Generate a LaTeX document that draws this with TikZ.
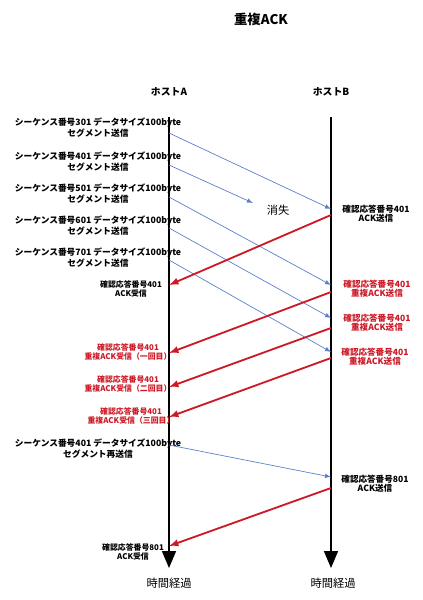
\documentclass[tikz,border=0pt]{standalone}
\usepackage{fontspec}
\setmainfont{Noto Sans CJK JP}
\usetikzlibrary{arrows}
\definecolor{segblue}{rgb}{0.36, 0.50, 0.80}
\definecolor{ackred}{rgb}{0.80, 0.10, 0.15}
\tikzset{
  seg/.style={segblue,line width=0.5pt,-latex},
  ack/.style={ackred,line width=1.3pt,-latex},
  seglbl/.style={font=\fontsize{6.2}{6.6}\selectfont\bfseries,align=center,inner sep=0pt},
  acklbl/.style={font=\fontsize{5.6}{6.4}\selectfont\bfseries,align=center,inner sep=0pt},
  acklblB/.style={font=\fontsize{6.1}{6.6}\selectfont\bfseries,align=center,inner sep=0pt},
  host/.style={font=\fontsize{7}{8}\selectfont\bfseries,inner sep=0pt},
  plain/.style={font=\fontsize{8}{9}\selectfont,inner sep=0pt}
}

\begin{document}
\begin{tikzpicture}[x=0.025cm,y=-0.025cm]
\useasboundingbox (0,0) rectangle (422,600);
\node[font=\fontsize{9.5}{10}\selectfont\bfseries] (title) at (261,19) {重複ACK};
\node[host] (hostA) at (169,92) {ホストA};
\node[host] (hostB) at (331,92) {ホストB};

% time lines
\coordinate (topA) at (169,117);
\coordinate (endA) at (169,568);
\coordinate (topB) at (331,117);
\coordinate (endB) at (331,568);
\draw[line width=1.8pt,-triangle 45] (topA) -- (endA);
\draw[line width=1.8pt,-triangle 45] (topB) -- (endB);
\node[plain] (timeA) at (169,583) {時間経過};
\node[plain] (timeB) at (333,583) {時間経過};

% segments from A
\foreach \n/\y in {301/124,401/158,501/190,601/222,701/254} {
  \node[seglbl] (s\n) at (98,\y+4) {シーケンス番号\n\ データサイズ100byte\\セグメント送信};
}
\coordinate (a1) at (169,133);
\coordinate (a2) at (169,165);
\coordinate (a3) at (169,197);
\coordinate (a4) at (169,228);
\coordinate (a5) at (169,260);
\coordinate (b1) at (331,209);
\coordinate (lost) at (253,203);
\coordinate (b3) at (331,285);
\coordinate (b4) at (331,318);
\coordinate (b5) at (331,352);
\draw[seg] (a1) -- (b1);
\draw[seg] (a2) -- (lost);
\draw[seg] (a3) -- (b3);
\draw[seg] (a4) -- (b4);
\draw[seg] (a5) -- (b5);
\node[plain] (lostlbl) at (278,210) {消失};

% acks from B
\coordinate (c1) at (331,215);
\coordinate (c2) at (331,292);
\coordinate (c3) at (331,328);
\coordinate (c4) at (331,358);
\coordinate (d1) at (169,285);
\coordinate (d2) at (169,353);
\coordinate (d3) at (169,387);
\coordinate (d4) at (169,417);
\draw[ack] (c1) -- (d1);
\draw[ack] (c2) -- (d2);
\draw[ack] (c3) -- (d3);
\draw[ack] (c4) -- (d4);

\node[acklblB] (ackB1) at (376,214) {確認応答番号401\\ACK送信};
\node[acklblB,ackred] (ackB2) at (377,289) {確認応答番号401\\重複ACK送信};
\node[acklblB,ackred] (ackB3) at (377,323) {確認応答番号401\\重複ACK送信};
\node[acklblB,ackred] (ackB4) at (375,357) {確認応答番号401\\重複ACK送信};

\node[acklbl] (ackA1) at (131,289) {確認応答番号401\\ACK受信};
\node[acklbl,ackred] (ackA2) at (128,352) {確認応答番号401\\重複ACK受信（一回目）};
\node[acklbl,ackred] (ackA3) at (128,384) {確認応答番号401\\重複ACK受信（二回目）};
\node[acklbl,ackred] (ackA4) at (131,416) {確認応答番号401\\重複ACK受信（三回目）};

% retransmission
\node[seglbl] (s401r) at (98,449) {シーケンス番号401 データサイズ100byte\\セグメント再送信};
\coordinate (a6) at (169,445);
\coordinate (b6) at (331,477);
\draw[seg] (a6) -- (b6);
\coordinate (c5) at (331,488);
\coordinate (d5) at (169,546);
\draw[ack] (c5) -- (d5);
\node[acklblB] (ackB5) at (375,484) {確認応答番号801\\ACK送信};
\node[acklbl] (ackA5) at (133,552) {確認応答番号801\\ACK受信};
\end{tikzpicture}
\end{document}
